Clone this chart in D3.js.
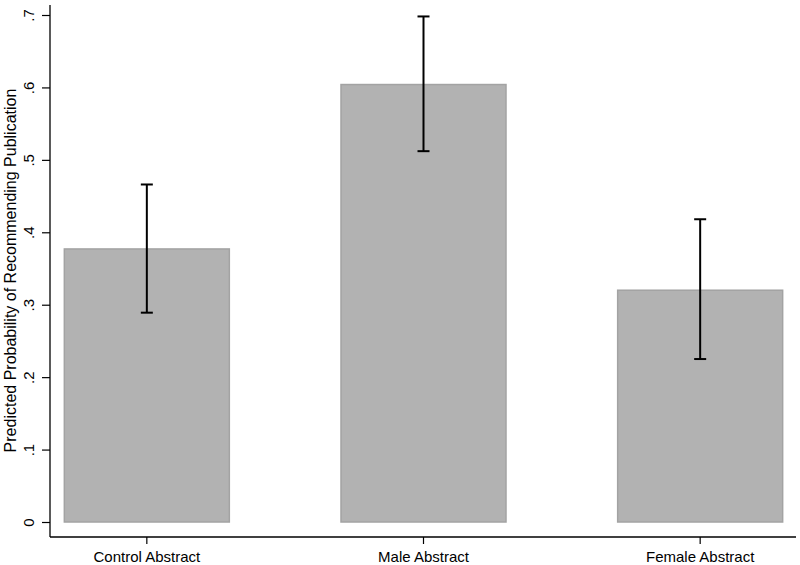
<!DOCTYPE html>
<html>
<head>
<meta charset="utf-8">
<script src="https://cdn.jsdelivr.net/npm/d3@7"></script>
<style>
  html, body { margin: 0; padding: 0; background: #fff; }
  svg { display: block; font-family: "Liberation Sans", Arial, Helvetica, sans-serif; }
</style>
</head>
<body>
<svg id="chart" width="800" height="565"></svg>
<script>
const categories = ["Control Abstract", "Male Abstract", "Female Abstract"];
const values = [0.377, 0.604, 0.320];
const lower = [0.289, 0.512, 0.225];
const upper = [0.466, 0.698, 0.418];
const yTicks = [0, 0.1, 0.2, 0.3, 0.4, 0.5, 0.6, 0.7];
const yTickLabels = ["0", ".1", ".2", ".3", ".4", ".5", ".6", ".7"];
const yTitle = "Predicted Probability of Recommending Publication";

const svg = d3.select("#chart");
const axisX = 50, axisY = 537;

const y = d3.scaleLinear().domain([0, 0.7]).range([522, 15]);
const x = d3.scaleBand().domain(categories).range([50, 797]).paddingInner(0.4).paddingOuter(0.05);

// bars
svg.append("g").selectAll("rect").data(categories).join("rect")
  .attr("x", d => x(d) + 0.5)
  .attr("y", (d, i) => y(values[i]))
  .attr("width", x.bandwidth() - 1)
  .attr("height", (d, i) => y(0) - y(values[i]))
  .attr("fill", "#b2b2b2")
  .attr("stroke", "#a3a3a3")
  .attr("stroke-width", 1.5);

// error bars
const eb = svg.append("g").attr("stroke", "#000").attr("stroke-width", 2);
categories.forEach((c, i) => {
  const cx = x(c) + x.bandwidth() / 2;
  eb.append("line").attr("x1", cx).attr("x2", cx).attr("y1", y(lower[i])).attr("y2", y(upper[i]));
  eb.append("line").attr("x1", cx - 6).attr("x2", cx + 6).attr("y1", y(lower[i])).attr("y2", y(lower[i]));
  eb.append("line").attr("x1", cx - 6).attr("x2", cx + 6).attr("y1", y(upper[i])).attr("y2", y(upper[i]));
});

// y axis
const yAxis = d3.axisLeft(y).tickValues(yTicks).tickFormat((d, i) => yTickLabels[i]).tickSize(8).tickPadding(0);
const gy = svg.append("g").attr("transform", `translate(${axisX},0)`).call(yAxis);
gy.select(".domain").remove();
gy.selectAll(".tick line").attr("stroke", "#000").attr("stroke-width", 1.2);
gy.selectAll(".tick text")
  .attr("font-size", 15).attr("fill", "#000")
  .attr("text-anchor", "middle")
  .attr("x", 0).attr("dy", 0)
  .attr("transform", "translate(-16,0) rotate(-90)");
svg.append("line").attr("x1", axisX).attr("x2", axisX).attr("y1", 5).attr("y2", axisY)
  .attr("stroke", "#000").attr("stroke-width", 1.3);

// x axis
const xAxis = d3.axisBottom(x).tickSize(7).tickPadding(7);
const gx = svg.append("g").attr("transform", `translate(0,${axisY})`).call(xAxis);
gx.select(".domain").remove();
gx.selectAll(".tick line").attr("stroke", "#000").attr("stroke-width", 1.2);
gx.selectAll(".tick text").attr("font-size", 15).attr("fill", "#000");
svg.append("line").attr("x1", axisX).attr("x2", 796).attr("y1", axisY).attr("y2", axisY)
  .attr("stroke", "#000").attr("stroke-width", 1.3);

// y title
svg.append("text")
  .attr("transform", `translate(16,${(y(0) + y(0.7)) / 2 + 2}) rotate(-90)`)
  .attr("text-anchor", "middle")
  .attr("font-size", 16)
  .attr("fill", "#000")
  .text(yTitle);
</script>
</body>
</html>
